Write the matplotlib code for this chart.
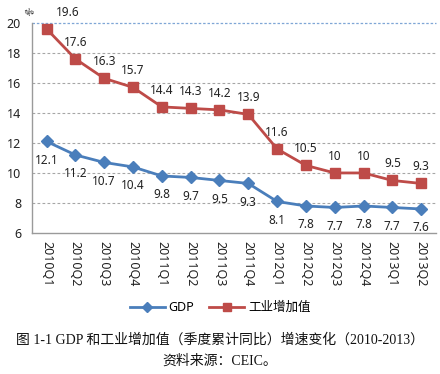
import matplotlib
matplotlib.use("Agg")
import matplotlib.pyplot as plt

plt.rcParams['font.family'] = ['Noto Sans', 'Noto Sans CJK SC', 'DejaVu Sans']

quarters = ["2010Q1", "2010Q2", "2010Q3", "2010Q4", "2011Q1", "2011Q2", "2011Q3",
            "2011Q4", "2012Q1", "2012Q2", "2012Q3", "2012Q4", "2013Q1", "2013Q2"]
gdp = [12.1, 11.2, 10.7, 10.4, 9.8, 9.7, 9.5, 9.3, 8.1, 7.8, 7.7, 7.8, 7.7, 7.6]
industry = [19.6, 17.6, 16.3, 15.7, 14.4, 14.3, 14.2, 13.9, 11.6, 10.5, 10, 10, 9.5, 9.3]
gdp_labels = ["12.1", "11.2", "10.7", "10.4", "9.8", "9.7", "9.5", "9.3", "8.1", "7.8", "7.7", "7.8", "7.7", "7.6"]
ind_labels = ["19.6", "17.6", "16.3", "15.7", "14.4", "14.3", "14.2", "13.9", "11.6", "10.5", "10", "10", "9.5", "9.3"]
yticks = [6, 8, 10, 12, 14, 16, 18, 20]

blue = "#4a7ebb"
red = "#be4b48"

fig = plt.figure(figsize=(4.4, 3.74), dpi=100)
ax = fig.add_axes([0.073, 0.377, 0.917, 0.562])

x = list(range(len(quarters)))
ax.plot(x, gdp, color=blue, lw=2.0, marker="D", ms=6, mfc=blue, mec=blue, label="GDP", zorder=3)
ax.plot(x, industry, color=red, lw=2.0, marker="s", ms=7, mfc=red, mec=red, label="工业增加值", zorder=3)

for i, (v, t) in enumerate(zip(gdp, gdp_labels)):
    ax.annotate(t, (i, v), xytext=(0, -13.5), textcoords="offset points",
                ha="center", va="center", fontsize=8.5, color="#222222")
for i, (v, t) in enumerate(zip(industry, ind_labels)):
    off = (15, 12) if i == 0 else (0, 12)
    ax.annotate(t, (i, v), xytext=off, textcoords="offset points",
                ha="center", va="center", fontsize=8.5, color="#222222")

ax.set_xlim(-0.5, len(quarters) - 0.5)
ax.set_ylim(6, 20)
ax.set_yticks(yticks)
ax.set_yticklabels([str(t) for t in yticks], fontsize=9, color="#222222")
ax.set_xticks(x)
ax.set_xticklabels(quarters, rotation=270, fontsize=9, color="#222222")
ax.tick_params(axis="both", length=0, pad=6)
ax.tick_params(axis="y", pad=8)

for yv in yticks[1:-1]:
    ax.axhline(yv, color="#a6a6a6", lw=0.8, ls=(0, (2.5, 2)), zorder=1)
ax.axhline(20, color="#7fa6d6", lw=0.9, ls=(0, (2, 1.5)), zorder=1, clip_on=False)

for s in ["top", "right"]:
    ax.spines[s].set_visible(False)
for s in ["left", "bottom"]:
    ax.spines[s].set_color("#9a9a9a")
    ax.spines[s].set_linewidth(1.0)

fig.text(0.068, 0.965, "%", fontsize=7, ha="center", va="center", color="#222222", rotation=30)

fig.legend(loc="center", bbox_to_anchor=(0.5, 0.178), ncol=2, frameon=False,
           fontsize=9, handlelength=2.8, columnspacing=1.2, handletextpad=0.3,
           markerscale=0.8)

fig.text(0.5, 0.09, "图 1-1 GDP 和工业增加值（季度累计同比）增速变化（2010-2013）",
         ha="center", va="center", fontsize=10,
         family=["Liberation Serif", "Noto Sans CJK SC"], color="#111111")
fig.text(0.5, 0.035, "资料来源：CEIC。", ha="center", va="center", fontsize=10,
         family=["Liberation Serif", "Noto Sans CJK SC"], color="#111111")

fig.savefig("out.png", dpi=100)
